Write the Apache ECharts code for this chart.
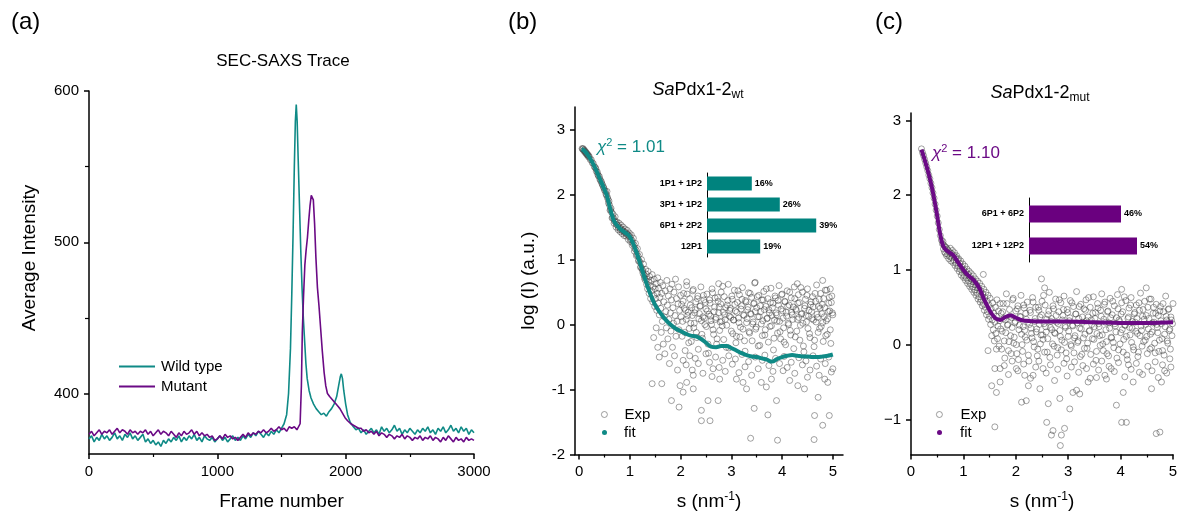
<!DOCTYPE html>
<html><head><meta charset="utf-8">
<script src="https://cdn.jsdelivr.net/npm/echarts@6/dist/echarts.min.js"></script>
<style>html,body{margin:0;padding:0;background:#fff}#c{width:1181px;height:516px}</style>
</head><body><div id="c"></div>
<script>
// ---------- Panel (a): SEC-SAXS trace ----------
const wtTrace = [[0,370],[20,372],[40,368],[60,371],[80,369],[100,373],[120,370],[140,372],[160,369],[180,371],[200,374],[220,370],[240,372],[260,369],[280,373],[300,371],[320,374],[340,370],[360,372],[380,369],[400,371],[420,373],[440,368],[460,370],[480,367],[500,369],[520,366],[540,368],[560,365],[580,369],[600,367],[620,370],[640,368],[660,371],[680,369],[700,372],[720,368],[740,371],[760,369],[780,372],[800,370],[820,373],[840,369],[860,371],[880,368],[900,372],[920,370],[940,369],[960,371],[980,368],[1000,370],[1020,372],[1040,369],[1060,371],[1080,368],[1100,370],[1120,372],[1140,369],[1160,371],[1180,369],[1200,372],[1220,370],[1240,373],[1260,371],[1280,374],[1300,372],[1320,375],[1340,373],[1360,371],[1380,374],[1400,372],[1420,375],[1440,373],[1460,376],[1480,374],[1500,377],[1520,380],[1540,386],[1555,400],[1570,430],[1580,465],[1590,505],[1600,550],[1608,580],[1615,591],[1622,580],[1630,555],[1640,525],[1650,495],[1660,470],[1670,450],[1680,435],[1690,420],[1700,410],[1715,402],[1730,397],[1750,393],[1770,390],[1790,388],[1810,386],[1830,387],[1850,385],[1870,388],[1890,390],[1910,393],[1930,398],[1945,405],[1958,411],[1966,413],[1975,410],[1985,402],[2000,393],[2015,386],[2035,381],[2060,378],[2080,376],[2100,377],[2120,374],[2140,376],[2160,373],[2180,375],[2200,377],[2220,374],[2240,376],[2260,373],[2280,378],[2300,375],[2320,377],[2340,374],[2360,376],[2380,379],[2400,375],[2420,377],[2440,373],[2460,376],[2480,374],[2500,377],[2520,375],[2540,373],[2560,376],[2580,374],[2600,377],[2620,375],[2640,378],[2660,374],[2680,376],[2700,373],[2720,377],[2740,375],[2760,378],[2780,374],[2800,376],[2820,379],[2840,375],[2860,377],[2880,374],[2900,378],[2920,375],[2940,377],[2960,373],[2980,376],[3000,374]];
const mutTrace = [[0,373],[20,375],[40,372],[60,374],[80,376],[100,373],[120,375],[140,374],[160,376],[180,373],[200,375],[220,377],[240,374],[260,376],[280,375],[300,373],[320,376],[340,374],[360,375],[380,373],[400,375],[420,374],[440,376],[460,373],[480,375],[500,372],[520,374],[540,376],[560,373],[580,375],[600,374],[620,372],[640,375],[660,373],[680,371],[700,374],[720,372],[740,375],[760,373],[780,374],[800,376],[820,373],[840,375],[860,372],[880,374],[900,372],[920,373],[940,371],[960,372],[980,369],[1000,370],[1020,372],[1040,370],[1060,373],[1080,371],[1100,372],[1120,370],[1140,371],[1160,369],[1180,371],[1200,373],[1220,371],[1240,374],[1260,372],[1280,374],[1300,373],[1320,375],[1340,374],[1360,376],[1380,374],[1400,375],[1420,377],[1440,375],[1460,376],[1480,378],[1500,376],[1520,377],[1540,375],[1560,378],[1580,377],[1600,378],[1620,376],[1635,377],[1645,380],[1655,405],[1662,440],[1672,465],[1682,485],[1692,495],[1702,503],[1712,514],[1722,524],[1732,531],[1740,532],[1748,528],[1758,512],[1768,490],[1780,470],[1792,458],[1805,443],[1818,428],[1832,414],[1845,405],[1858,400],[1875,398],[1895,396],[1915,394],[1935,392],[1955,390],[1975,387],[1995,384],[2015,382],[2040,380],[2060,379],[2080,378],[2100,377],[2120,377],[2140,375],[2160,376],[2180,374],[2200,375],[2220,373],[2240,375],[2260,372],[2280,374],[2300,373],[2320,371],[2340,373],[2360,372],[2380,370],[2400,372],[2420,371],[2440,373],[2460,370],[2480,372],[2500,371],[2520,369],[2540,371],[2560,370],[2580,372],[2600,369],[2620,371],[2640,370],[2660,372],[2680,369],[2700,371],[2720,370],[2740,368],[2760,371],[2780,369],[2800,372],[2820,370],[2840,368],[2860,371],[2880,369],[2900,370],[2920,368],[2940,371],[2960,369],[2980,370],[3000,369]];
const traceXLabels = [0,1000,2000,3000];
const traceXMinor = [500,1500,2500];
const traceYLabels = [400,500,600];
const traceYMinor = [450,550];

// ---------- Panels (b),(c): SAXS fits ----------
const sLabels = [0,1,2,3,4,5];
const sMinor = [0.5,1.5,2.5,3.5,4.5];
const logLabelsB = [-2,-1,0,1,2,3];
const logLabelsC = [-1,0,1,2,3];

const expBLow = [[0.06,2.71],[0.07,2.70],[0.08,2.71],[0.09,2.68],[0.10,2.69],[0.11,2.66],[0.12,2.67],[0.13,2.64],[0.14,2.65],[0.15,2.62],[0.16,2.63],[0.17,2.60],[0.18,2.61],[0.19,2.58],[0.20,2.59],[0.22,2.54],[0.24,2.54],[0.26,2.49],[0.28,2.48],[0.30,2.43],[0.32,2.42],[0.33,2.40],[0.34,2.36],[0.36,2.35],[0.37,2.31],[0.38,2.29],[0.40,2.28],[0.41,2.24],[0.42,2.22],[0.44,2.20],[0.45,2.17],[0.46,2.15],[0.48,2.12],[0.49,2.10],[0.50,2.07],[0.52,2.05],[0.53,2.01],[0.54,1.99],[0.56,1.96],[0.58,1.87],[0.60,1.84],[0.62,1.77],[0.64,1.73],[0.66,1.65],[0.68,1.64],[0.70,1.59],[0.72,1.58],[0.74,1.54],[0.76,1.53],[0.78,1.49],[0.80,1.50],[0.82,1.46],[0.84,1.47],[0.86,1.44],[0.88,1.44],[0.90,1.41],[0.92,1.42],[0.94,1.39],[0.96,1.39],[0.98,1.36],[1.00,1.36],[1.02,1.31],[1.04,1.30],[1.06,1.25],[1.08,1.23],[1.10,1.17],[1.12,1.15],[1.14,1.08],[1.16,1.06],[1.18,0.99],[1.20,0.96],[1.22,0.89],[1.24,0.86],[1.26,0.79],[1.28,0.76],[1.30,0.69],
[0.55,2.05],[0.57,1.93],[0.59,1.90],[0.61,1.76],[0.63,1.79],[0.65,1.64],[0.67,1.70],[0.69,1.56],[0.71,1.66],[0.73,1.50],[0.75,1.58],[0.77,1.46],[0.79,1.56],[0.81,1.43],[0.83,1.53],[0.85,1.40],[0.87,1.50],[0.89,1.37],[0.91,1.47],[0.93,1.36],[0.95,1.45],[0.97,1.31],[0.99,1.41],[1.01,1.28],[1.03,1.38],[1.05,1.22],[1.07,1.33],[1.09,1.13],[1.11,1.25],[1.13,1.06],[1.15,1.17],[1.17,0.98],[1.19,1.08],[1.21,0.88],[1.23,1.00],[1.25,0.83],[1.27,0.93],[1.29,0.72],[1.31,0.85]];
const expBMid = [[1.32,0.78],[1.33,0.62],[1.34,0.70],[1.35,0.55],[1.36,0.82],[1.37,0.66],[1.38,0.48],[1.39,0.74],[1.40,0.60],[1.41,0.40],[1.42,0.68],[1.43,0.52],[1.44,0.77],[1.45,0.35],[1.46,0.58],[1.47,0.45],[1.48,0.70],[1.49,0.28],[1.50,0.55],[1.51,0.40],[1.52,0.63],[1.53,0.22],[1.54,0.48],[1.55,0.72],[1.56,0.33],[1.57,0.56],[1.58,0.15],[1.59,0.42],[1.60,0.65],[1.47,-0.20],[1.52,-0.05],[1.55,-0.35],[1.58,-0.50],
[1.61,0.25],[1.62,-0.12],[1.63,0.48],[1.64,0.05],[1.65,0.60],[1.66,-0.30],[1.67,0.35],[1.68,0.12],[1.69,-0.45],[1.70,0.52],[1.71,0.20],[1.72,-0.05],[1.73,0.68],[1.74,0.30],[1.75,-0.22],[1.76,0.44],[1.77,0.08],[1.78,-0.60],[1.79,0.55],[1.80,0.18],[1.81,-0.10],[1.82,0.38],[1.83,0.62],[1.84,-0.35],[1.85,0.26],[1.86,0.02],[1.87,0.50],[1.88,-0.48],[1.89,0.14],[1.90,0.70],[1.91,-0.18],[1.92,0.40],[1.93,0.05],[1.94,-0.70],[1.95,0.32],[1.96,0.58],[1.97,-0.08],[1.98,0.22],[2.00,0.45]];
const expBBandA = [[2.02,0.31],[2.04,0.05],[2.06,0.48],[2.08,-0.12],[2.10,0.22],[2.12,0.60],[2.14,0.14],[2.16,-0.28],[2.18,0.40],[2.20,0.02],
[2.22,0.26],[2.24,0.52],[2.26,-0.05],[2.28,0.18],[2.30,0.35],[2.32,-0.20],[2.34,0.44],[2.36,0.09],[2.38,0.28],[2.40,0.58],
[2.42,-0.15],[2.44,0.12],[2.46,0.38],[2.48,0.00],[2.50,0.24],[2.52,0.47],[2.54,-0.30],[2.56,0.16],[2.58,0.33],[2.60,0.06],
[2.62,0.55],[2.64,-0.08],[2.66,0.20],[2.68,0.41],[2.70,0.11],[2.72,-0.22],[2.74,0.36],[2.76,0.27],[2.78,0.04],[2.80,0.50],
[2.82,-0.02],[2.84,0.19],[2.86,0.43],[2.88,0.08],[2.90,-0.35],[2.92,0.30],[2.94,0.62],[2.96,0.13],[2.98,0.25],[3.00,-0.10],
[3.02,0.39],[3.04,0.07],[3.06,0.53],[3.08,0.21],[3.10,-0.18],[3.12,0.34],[3.14,0.10],[3.16,0.46],[3.18,-0.04],[3.20,0.29],
[3.22,0.57],[3.24,0.15],[3.26,-0.25],[3.28,0.37],[3.30,0.03],[3.32,0.23],[3.34,0.49],[3.36,-0.13],[3.38,0.17],[3.40,0.42],
[3.42,0.01],[3.44,0.32],[3.46,0.64],[3.48,-0.07],[3.50,0.26],[3.52,0.12],[3.54,0.45],[3.56,-0.32],[3.58,0.20],[3.60,0.38],
[3.62,0.06],[3.64,0.51],[3.66,-0.16],[3.68,0.28],[3.70,0.09],[3.72,0.40],[3.74,0.23],[3.76,-0.03],[3.78,0.56],[3.80,0.14],
[3.82,0.33],[3.84,-0.21],[3.86,0.44],[3.88,0.18],[3.90,0.05],[3.92,0.37],[3.94,0.60],[3.96,-0.11],[3.98,0.24],[4.00,0.47],
[4.02,0.10],[4.04,-0.27],[4.06,0.35],[4.08,0.19],[4.10,0.52],[4.12,0.02],[4.14,0.30],[4.16,-0.09],[4.18,0.41],[4.20,0.15],
[4.22,0.27],[4.24,0.58],[4.26,-0.19],[4.28,0.22],[4.30,0.08],[4.32,0.46],[4.34,0.34],[4.36,-0.01],[4.38,0.16],[4.40,0.50],
[4.42,-0.33],[4.44,0.25],[4.46,0.39],[4.48,0.04],[4.50,0.55],[4.52,0.13],[4.54,-0.14],[4.56,0.31],[4.58,0.20],[4.60,0.43],
[4.62,0.07],[4.64,-0.24],[4.66,0.36],[4.68,0.61],[4.70,0.11],[4.72,0.28],[4.74,-0.06],[4.76,0.48],[4.78,0.17],[4.80,0.03],
[4.82,0.40],[4.84,0.26],[4.86,-0.17],[4.88,0.53],[4.90,0.09],[4.92,0.33],[4.94,0.21],[4.96,-0.29],[4.98,0.44],[5.00,0.15]];
const expBBandB = [[2.01,0.12],[2.03,-0.18],[2.05,0.36],[2.07,0.25],[2.09,-0.40],[2.11,0.08],[2.13,0.47],[2.15,0.19],[2.17,-0.06],[2.19,0.30],
[2.21,-0.26],[2.23,0.14],[2.25,0.54],[2.27,0.02],[2.29,0.23],[2.31,-0.12],[2.33,0.40],[2.35,-0.38],[2.37,0.17],[2.39,0.29],
[2.41,0.06],[2.43,-0.21],[2.45,0.45],[2.47,0.10],[2.49,0.34],[2.51,-0.03],[2.53,0.21],[2.55,-0.44],[2.57,0.38],[2.59,0.13],
[2.61,0.00],[2.63,0.49],[2.65,-0.15],[2.67,0.27],[2.69,0.08],[2.71,-0.30],[2.73,0.42],[2.75,0.18],[2.77,-0.09],[2.79,0.32],
[2.81,0.05],[2.83,0.59],[2.85,-0.23],[2.87,0.15],[2.89,0.26],[2.91,-0.01],[2.93,0.37],[2.95,-0.36],[2.97,0.22],[2.99,0.11],
[3.01,0.44],[3.03,-0.14],[3.05,0.07],[3.07,0.31],[3.09,-0.28],[3.11,0.19],[3.13,0.52],[3.15,0.03],[3.17,-0.19],[3.19,0.24],
[3.21,0.39],[3.23,-0.07],[3.25,0.14],[3.27,-0.41],[3.29,0.35],[3.31,0.09],[3.33,0.27],[3.35,-0.11],[3.37,0.48],[3.39,0.16],
[3.41,-0.25],[3.43,0.04],[3.45,0.33],[3.47,0.20],[3.49,-0.04],[3.51,0.43],[3.53,-0.33],[3.55,0.12],[3.57,0.29],[3.59,0.01],
[3.61,-0.17],[3.63,0.38],[3.65,0.23],[3.67,-0.08],[3.69,0.55],[3.71,0.10],[3.73,-0.27],[3.75,0.18],[3.77,0.34],[3.79,-0.02],
[3.81,0.26],[3.83,-0.39],[3.85,0.07],[3.87,0.41],[3.89,0.15],[3.91,-0.13],[3.93,0.30],[3.95,0.05],[3.97,-0.22],[3.99,0.46],
[4.01,0.21],[4.03,-0.05],[4.05,0.36],[4.07,-0.31],[4.09,0.13],[4.11,0.28],[4.13,0.00],[4.15,0.50],[4.17,-0.16],[4.19,0.19],
[4.21,0.08],[4.23,-0.37],[4.25,0.40],[4.27,0.24],[4.29,-0.10],[4.31,0.33],[4.33,0.11],[4.35,-0.24],[4.37,0.57],[4.39,0.17],
[4.41,0.02],[4.43,-0.42],[4.45,0.29],[4.47,0.14],[4.49,0.45],[4.51,-0.06],[4.53,0.22],[4.55,-0.20],[4.57,0.35],[4.59,0.09],
[4.61,0.27],[4.63,-0.34],[4.65,0.48],[4.67,0.04],[4.69,0.16],[4.71,-0.12],[4.73,0.39],[4.75,0.25],[4.77,-0.03],[4.79,0.31],
[4.81,-0.26],[4.83,0.12],[4.85,0.53],[4.87,0.06],[4.89,-0.15],[4.91,0.20],[4.93,0.42],[4.95,-0.08],[4.97,0.34],[4.99,0.18]];
const expBSparse = [[2.05,-0.55],[2.11,-0.62],[2.18,-0.48],[2.23,-0.70],[2.29,-0.52],[2.35,-0.60],[2.44,-0.75],[2.50,-0.45],[2.57,-0.58],[2.62,-0.80],[2.69,-0.50],[2.76,-0.66],[2.83,-0.55],[2.88,-0.72],[2.95,-0.48],[3.02,-0.61],[3.08,-0.53],[3.15,-0.74],[3.21,-0.46],[3.27,-0.65],[3.34,-0.57],[3.40,-0.78],[3.47,-0.50],[3.53,-0.68],[3.61,-0.55],[3.66,-0.47],[3.74,-0.63],[3.82,-0.72],[3.87,-0.52],[3.95,-0.60],[4.04,-0.49],[4.10,-0.66],[4.18,-0.58],[4.25,-0.75],[4.33,-0.51],[4.40,-0.62],[4.47,-0.56],[4.55,-0.70],[4.61,-0.48],[4.68,-0.64],[4.76,-0.53],[4.85,-0.60],[4.92,-0.50],[4.97,-0.73],
[1.44,-0.91],[1.63,-0.91],[1.82,-1.17],[1.97,-1.27],[2.05,-1.04],[2.41,-1.32],[2.41,-1.48],[2.58,-1.48],[2.54,-1.17],[2.74,-1.17],[3.38,-1.75],[3.45,-1.29],[3.72,-1.39],[3.91,-1.78],[3.89,-1.17],[4.63,-1.77],[4.64,-1.40],[4.93,-1.40],[4.80,-1.55],[4.71,-1.12],[4.84,-0.84],[1.99,-0.94],[2.12,-0.89],[2.25,-0.78],[2.25,-0.99],[2.64,-0.68],[2.77,-0.84],[3.10,-0.84],[3.23,-0.89],[3.30,-0.99],[3.59,-0.89],[3.69,-0.96],[3.79,-0.84],[4.02,-0.71],[4.15,-0.86],[4.31,-0.94],[4.44,-0.99],[4.50,-0.81],[4.73,-0.78],[4.90,-0.89],[5.00,-0.68],[3.47,0.65],[4.80,0.68],[2.12,0.66],[2.75,0.63],[4.30,0.63],[4.95,0.55]];
const fitB = [[0.05,2.70],[0.1,2.68],[0.2,2.58],[0.3,2.44],[0.4,2.26],[0.5,2.08],[0.55,1.98],[0.6,1.82],[0.65,1.68],[0.7,1.58],[0.8,1.48],[0.9,1.42],[1.0,1.35],[1.1,1.18],[1.2,0.95],[1.3,0.70],[1.4,0.48],[1.5,0.30],[1.6,0.18],[1.7,0.08],[1.8,0.00],[1.9,-0.06],[2.0,-0.10],[2.1,-0.14],[2.2,-0.17],[2.3,-0.18],[2.4,-0.22],[2.5,-0.28],[2.6,-0.34],[2.7,-0.35],[2.8,-0.33],[2.9,-0.33],[3.0,-0.36],[3.1,-0.40],[3.2,-0.44],[3.3,-0.47],[3.4,-0.49],[3.5,-0.50],[3.6,-0.52],[3.7,-0.54],[3.8,-0.57],[3.9,-0.53],[4.0,-0.50],[4.1,-0.48],[4.2,-0.47],[4.3,-0.48],[4.4,-0.49],[4.5,-0.49],[4.6,-0.50],[4.7,-0.50],[4.8,-0.49],[4.9,-0.48],[5.0,-0.46]];

const expCLow = [[0.20,2.62],[0.22,2.57],[0.24,2.53],[0.26,2.48],[0.28,2.43],[0.30,2.38],[0.32,2.33],[0.34,2.27],[0.36,2.22],[0.38,2.16],[0.40,2.10],[0.42,2.03],[0.44,1.96],[0.46,1.88],[0.48,1.80],[0.50,1.72],[0.52,1.63],[0.54,1.54],[0.56,1.46],[0.58,1.40],[0.60,1.35],
[0.61,1.38],[0.62,1.28],[0.63,1.33],[0.64,1.24],[0.65,1.31],[0.66,1.22],[0.67,1.30],[0.68,1.19],[0.69,1.28],[0.70,1.21],[0.71,1.26],[0.72,1.15],[0.73,1.24],[0.74,1.18],[0.75,1.29],[0.76,1.12],[0.77,1.22],[0.78,1.16],[0.79,1.26],[0.80,1.10],[0.81,1.20],[0.82,1.13],[0.83,1.23],[0.84,1.06],[0.85,1.17],[0.86,1.09],[0.87,1.19],[0.88,1.02],[0.89,1.14],[0.90,1.05],[0.91,1.15],[0.92,0.98],[0.93,1.09],[0.94,1.01],[0.95,1.12],[0.96,0.93],[0.97,1.04],[0.98,0.96],[0.99,1.08],[1.00,0.90],[1.01,1.00],[1.02,0.92],[1.03,1.05],[1.04,0.86],[1.05,0.97],[1.06,0.89],[1.07,1.01],[1.08,0.82],[1.09,0.94],[1.10,0.85],[1.11,0.98],[1.12,0.78],[1.13,0.90],[1.14,0.81],[1.15,0.95],[1.16,0.74],[1.17,0.87],[1.18,0.77],[1.19,0.92],[1.20,0.70],[1.21,0.84],[1.22,0.73],[1.23,0.88],[1.24,0.66],[1.25,0.80],[1.26,0.69],[1.27,0.85],[1.28,0.61],[1.29,0.76],[1.30,0.64],[1.31,0.82],[1.32,0.57],[1.33,0.72],[1.34,0.60],[1.35,0.78],[1.36,0.52],[1.37,0.68],[1.38,0.94],[1.38,0.55],[1.39,0.74],[1.40,0.46],[1.41,0.63],[1.42,0.50],[1.43,0.70],[1.44,0.40],[1.45,0.58],[1.46,0.44],[1.47,0.66],[1.47,-0.08],[1.48,0.34],[1.49,0.53],[1.50,0.38],[1.51,0.62],[1.52,0.27],[1.53,0.48],[1.54,0.12],[1.54,-0.55],[1.55,0.33],[1.56,0.56],[1.57,0.20],[1.58,0.42],[1.59,0.05],[1.60,0.30],[1.60,-0.32],[1.60,-1.10],[1.61,0.50],[1.62,0.15],[1.63,0.38],[1.63,-0.06],[1.63,-0.64],[1.64,0.60],[1.65,0.08],[1.66,0.25],[1.67,0.45],[1.68,-0.02],[1.69,0.32],[1.70,0.55],[1.70,-0.32],[1.70,-0.50]];
const expCBandA = [[1.72,0.42],[1.74,0.18],[1.76,0.55],[1.78,0.05],[1.80,0.33],[1.82,0.68],[1.84,0.26],[1.86,-0.08],[1.88,0.47],[1.90,0.12],
[1.92,0.36],[1.94,0.60],[1.96,0.02],[1.98,0.29],[2.00,0.45],[2.02,-0.12],[2.04,0.52],[2.06,0.20],[2.08,0.38],[2.10,0.66],
[2.12,0.00],[2.14,0.24],[2.16,0.49],[2.18,0.10],[2.20,0.34],[2.22,0.57],[2.24,-0.14],[2.26,0.27],[2.28,0.43],[2.30,0.15],
[2.32,0.63],[2.34,0.04],[2.36,0.31],[2.38,0.50],[2.40,0.21],[2.42,-0.06],[2.44,0.46],[2.46,0.37],[2.48,0.13],[2.50,0.58],
[2.52,0.07],[2.54,0.28],[2.56,0.53],[2.58,0.17],[2.60,-0.10],[2.62,0.40],[2.64,0.70],[2.66,0.23],[2.68,0.35],[2.70,0.01],
[2.72,0.48],[2.74,0.16],[2.76,0.61],[2.78,0.30],[2.80,-0.04],[2.82,0.44],[2.84,0.19],[2.86,0.56],[2.88,0.06],[2.90,0.39],
[2.92,0.65],[2.94,0.25],[2.96,-0.11],[2.98,0.47],[3.00,0.11],[3.02,0.32],[3.04,0.59],[3.06,-0.02],[3.08,0.26],[3.10,0.51],
[3.12,0.09],[3.14,0.41],[3.16,0.71],[3.18,0.03],[3.20,0.35],[3.22,0.22],[3.24,0.54],[3.26,-0.13],[3.28,0.30],[3.30,0.48],
[3.32,0.14],[3.34,0.60],[3.36,-0.05],[3.38,0.37],[3.40,0.18],[3.42,0.50],[3.44,0.33],[3.46,0.08],[3.48,0.64],[3.50,0.24],
[3.52,0.43],[3.54,-0.09],[3.56,0.55],[3.58,0.28],[3.60,0.12],[3.62,0.46],[3.64,0.68],[3.66,0.01],[3.68,0.34],[3.70,0.57],
[3.72,0.20],[3.74,-0.12],[3.76,0.45],[3.78,0.29],[3.80,0.62],[3.82,0.10],[3.84,0.40],[3.86,0.03],[3.88,0.52],[3.90,0.25],
[3.92,0.36],[3.94,0.67],[3.96,-0.07],[3.98,0.31],[4.00,0.16],[4.02,0.56],[4.04,0.44],[4.06,0.07],[4.08,0.26],[4.10,0.59],
[4.12,-0.14],[4.14,0.35],[4.16,0.49],[4.18,0.13],[4.20,0.63],[4.22,0.22],[4.24,-0.03],[4.26,0.41],[4.28,0.30],[4.30,0.53],
[4.32,0.15],[4.34,-0.10],[4.36,0.46],[4.38,0.69],[4.40,0.19],[4.42,0.38],[4.44,0.04],[4.46,0.58],[4.48,0.27],[4.50,0.11],
[4.52,0.50],[4.54,0.35],[4.56,-0.06],[4.58,0.61],[4.60,0.17],[4.62,0.42],[4.64,0.30],[4.66,-0.11],[4.68,0.54],[4.70,0.23],
[4.72,0.39],[4.74,0.06],[4.76,0.51],[4.78,0.28],[4.80,-0.08],[4.82,0.44],[4.84,0.14],[4.86,0.65],[4.88,0.33],[4.90,0.02],
[4.92,0.48],[4.94,0.21],[4.96,0.37],[4.98,0.12],[5.00,0.55]];
const expCBandB = [[1.71,0.21],[1.73,-0.06],[1.75,0.44],[1.77,0.35],[1.79,-0.18],[1.81,0.16],[1.83,0.55],[1.85,0.27],[1.87,0.04],[1.89,0.38],
[1.91,-0.12],[1.93,0.23],[1.95,0.62],[1.97,0.10],[1.99,0.31],[2.01,0.00],[2.03,0.48],[2.05,-0.20],[2.07,0.26],[2.09,0.37],
[2.11,0.14],[2.13,-0.09],[2.15,0.53],[2.17,0.19],[2.19,0.42],[2.21,0.06],[2.23,0.30],[2.25,-0.22],[2.27,0.46],[2.29,0.22],
[2.31,0.09],[2.33,0.57],[2.35,-0.03],[2.37,0.35],[2.39,0.17],[2.41,-0.15],[2.43,0.50],[2.45,0.27],[2.47,0.01],[2.49,0.40],
[2.51,0.13],[2.53,0.66],[2.55,-0.10],[2.57,0.24],[2.59,0.34],[2.61,0.08],[2.63,0.45],[2.65,-0.17],[2.67,0.31],[2.69,0.20],
[2.71,0.52],[2.73,-0.02],[2.75,0.15],[2.77,0.39],[2.79,-0.14],[2.81,0.28],[2.83,0.60],[2.85,0.11],[2.87,-0.07],[2.89,0.33],
[2.91,0.47],[2.93,0.03],[2.95,0.23],[2.97,-0.19],[2.99,0.43],[3.01,0.18],[3.03,0.36],[3.05,0.00],[3.07,0.56],[3.09,0.25],
[3.11,-0.11],[3.13,0.12],[3.15,0.41],[3.17,0.29],[3.19,0.05],[3.21,0.51],[3.23,-0.16],[3.25,0.21],[3.27,0.37],[3.29,0.09],
[3.31,-0.05],[3.33,0.46],[3.35,0.32],[3.37,0.02],[3.39,0.63],[3.41,0.19],[3.43,-0.13],[3.45,0.27],[3.47,0.42],[3.49,0.07],
[3.51,0.35],[3.53,-0.21],[3.55,0.15],[3.57,0.49],[3.59,0.24],[3.61,-0.01],[3.63,0.38],[3.65,0.13],[3.67,-0.08],[3.69,0.54],
[3.71,0.30],[3.73,0.04],[3.75,0.44],[3.77,-0.15],[3.79,0.22],[3.81,0.36],[3.83,0.09],[3.85,0.58],[3.87,-0.04],[3.89,0.28],
[3.91,0.17],[3.93,-0.18],[3.95,0.48],[3.97,0.33],[3.99,0.01],[4.01,0.41],[4.03,0.20],[4.05,-0.10],[4.07,0.64],[4.09,0.26],
[4.11,0.11],[4.13,-0.20],[4.15,0.37],[4.17,0.23],[4.19,0.53],[4.21,0.03],[4.23,0.31],[4.25,-0.07],[4.27,0.43],[4.29,0.18],
[4.31,0.35],[4.33,-0.16],[4.35,0.56],[4.37,0.12],[4.39,0.25],[4.41,-0.02],[4.43,0.47],[4.45,0.34],[4.47,0.06],[4.49,0.39],
[4.51,-0.12],[4.53,0.21],[4.55,0.61],[4.57,0.14],[4.59,-0.04],[4.61,0.29],[4.63,0.50],[4.65,0.02],[4.67,0.42],[4.69,0.27],
[4.71,0.16],[4.73,-0.09],[4.75,0.45],[4.77,0.32],[4.79,0.08],[4.81,0.55],[4.83,-0.14],[4.85,0.24],[4.87,0.38],[4.89,0.05],
[4.91,0.47],[4.93,0.19],[4.95,-0.06],[4.97,0.33],[4.99,0.28]];
const expCSparse = [[1.78,-0.28],[1.86,-0.40],[1.93,-0.22],[2.04,-0.35],[2.15,-0.26],[2.28,-0.45],[2.38,-0.30],[2.44,-0.22],[2.58,-0.38],[2.66,-0.27],[2.74,-0.48],[2.80,-0.33],[2.92,-0.25],[2.98,-0.42],[3.06,-0.30],[3.12,-0.23],[3.20,-0.37],[3.28,-0.28],[3.42,-0.45],[3.48,-0.26],[3.58,-0.34],[3.64,-0.22],[3.70,-0.41],[3.78,-0.29],[3.88,-0.36],[3.96,-0.24],[4.08,-0.43],[4.15,-0.27],[4.20,-0.33],[4.30,-0.25],[4.42,-0.40],[4.52,-0.29],[4.60,-0.35],[4.66,-0.23],[4.72,-0.44],[4.80,-0.27],[4.88,-0.38],[4.96,-0.30],
[2.01,-0.32],[2.17,-0.41],[2.24,-0.55],[2.11,-0.77],[2.20,-0.75],[2.46,-0.59],[2.33,-0.41],[2.62,-0.79],[2.84,-0.72],[2.59,-1.04],[2.71,-1.15],[2.68,-1.21],[2.87,-1.21],[2.93,-1.12],[2.85,-1.35],[3.03,-0.86],[3.09,-0.64],[3.16,-0.61],[3.22,-0.66],[3.38,-0.50],[3.54,-0.44],[3.73,-0.46],[3.92,-0.81],[4.02,-1.04],[4.11,-1.04],[4.05,-0.64],[4.24,-0.50],[4.59,-0.59],[4.68,-1.19],[4.75,-1.17],[4.78,-0.50],[4.84,-0.35],[4.36,-0.37],[2.52,-0.32],[3.35,-0.32],[3.82,-0.32],[4.94,-0.19],
[2.55,0.76],[2.49,0.88],[4.02,0.74],[4.49,0.76]];
const fitC = [[0.2,2.61],[0.25,2.50],[0.3,2.38],[0.35,2.25],[0.4,2.10],[0.45,1.92],[0.5,1.72],[0.55,1.50],[0.6,1.35],[0.65,1.28],[0.7,1.25],[0.8,1.20],[0.9,1.10],[1.0,1.00],[1.1,0.92],[1.2,0.86],[1.3,0.76],[1.4,0.60],[1.5,0.46],[1.6,0.36],[1.7,0.33],[1.8,0.37],[1.9,0.39],[2.0,0.36],[2.1,0.33],[2.2,0.32],[2.5,0.31],[3.0,0.31],[3.5,0.30],[4.0,0.29],[4.5,0.29],[5.0,0.30]];

// ---------- Insets ----------
const catsB = ['1P1 + 1P2','3P1 + 1P2','6P1 + 2P2','12P1'];
const valsB = [16,26,39,19];
const catsC = ['6P1 + 6P2','12P1 + 12P2'];
const valsC = [46,54];

const FONT = 'Liberation Sans, Arial, sans-serif';
const TEAL = '#0f8a86', PURPLE = '#6b0a85', TEALBAR = '#00837e', PURPLEBAR = '#6a007f';
const expB = expBLow.concat(expBMid, expBBandA, expBBandB, expBSparse);
const expC = expCLow.concat(expCBandA, expCBandB, expCSparse);

const axLine = {onZero:false, lineStyle:{color:'#000', width:1.5}};
const plain = v => v < 0 ? '-' + Math.abs(v) : String(v);
function mainX(grid, min, max, labels, name, gap, rich){
  return {type:'value', gridIndex:grid, min, max, position:'bottom',
    axisLine: axLine, splitLine:{show:false},
    axisTick:{customValues:labels, length:5, lineStyle:{color:'#000', width:1.5}},
    axisLabel:{customValues:labels, color:'#000', fontSize:15, margin:10, fontFamily:FONT, formatter:plain},
    name, nameLocation:'middle', nameGap:gap,
    nameTextStyle:{color:'#000', fontSize:19, fontFamily:FONT, rich}};
}
function minorX(grid, min, max, vals){
  return {type:'value', gridIndex:grid, min, max, position:'bottom',
    axisLine:{show:false, onZero:false}, splitLine:{show:false}, axisLabel:{show:false},
    axisTick:{customValues:vals, length:3, lineStyle:{color:'#000', width:1.2}}};
}
function mainY(grid, min, max, labels, fmt){
  return {type:'value', gridIndex:grid, min, max, position:'left',
    axisLine: axLine, splitLine:{show:false},
    axisTick:{customValues:labels, length:5, lineStyle:{color:'#000', width:1.5}},
    axisLabel:{customValues:labels, color:'#000', fontSize:15, margin:10, fontFamily:FONT, formatter:fmt || plain}};
}
const sRich = {n:{fontSize:19, fontFamily:FONT, color:'#000'}, sup:{fontSize:12, fontFamily:FONT, color:'#000', padding:[0,0,10,0]}};

const chart = echarts.init(document.getElementById('c'), null, {renderer:'canvas'});
chart.setOption({
  animation:false,
  backgroundColor:'#fff',
  textStyle:{fontFamily:FONT},
  grid:[
    {left:89, top:91, width:385, height:363},
    {left:575, top:107, width:268, height:349},
    {left:911, top:113, width:262, height:343},
    {left:707, top:173, width:140, height:84},
    {left:1029, top:198, width:140, height:64}
  ],
  xAxis:[
    mainX(0, 0, 3000, traceXLabels, 'Frame number', 38),
    minorX(0, 0, 3000, traceXMinor),
    mainX(1, -0.08, 5.2, sLabels, '{n|s (nm}{sup|-1}{n|)}', 36, sRich),
    minorX(1, -0.08, 5.2, sMinor),
    mainX(2, 0, 5, sLabels, '{n|s (nm}{sup|-1}{n|)}', 36, sRich),
    minorX(2, 0, 5, sMinor),
    {type:'value', gridIndex:3, min:0, max:50, axisLine:{onZero:false, lineStyle:{color:'#8a8a8a', width:1.5}}, axisTick:{show:false}, axisLabel:{show:false}, splitLine:{show:false}},
    {type:'value', gridIndex:4, min:0, max:70, axisLine:{onZero:false, lineStyle:{color:'#8a8a8a', width:1.5}}, axisTick:{show:false}, axisLabel:{show:false}, splitLine:{show:false}}
  ],
  yAxis:[
    mainY(0, 360, 600, traceYLabels),
    {type:'value', gridIndex:0, min:360, max:600, position:'left', axisLine:{show:false, onZero:false}, splitLine:{show:false}, axisLabel:{show:false},
      axisTick:{customValues:traceYMinor, length:4, lineStyle:{color:'#000', width:1.2}}},
    Object.assign(mainY(1, -2, 3.35, logLabelsB), {name:'log (I) (a.u.)', nameLocation:'middle', nameGap:37, nameTextStyle:{color:'#000', fontSize:19, fontFamily:FONT}}),
    mainY(2, -1.47, 3.1, logLabelsC, v => v < 0 ? '\u2212' + Math.abs(v) : String(v)),
    {type:'category', gridIndex:3, data:catsB, inverse:true, axisLine:{onZero:false, lineStyle:{color:'#000', width:1}},
      axisTick:{alignWithLabel:true, length:3, lineStyle:{color:'#000'}},
      axisLabel:{color:'#000', fontSize:9, fontWeight:'bold', margin:5, fontFamily:FONT}},
    {type:'category', gridIndex:4, data:catsC, inverse:true, axisLine:{onZero:false, lineStyle:{color:'#000', width:1}},
      axisTick:{alignWithLabel:true, length:3, lineStyle:{color:'#000'}},
      axisLabel:{color:'#000', fontSize:9, fontWeight:'bold', margin:5, fontFamily:FONT}}
  ],
  legend:[
    {left:114, top:354, orient:'vertical', selectedMode:false, itemWidth:36, itemHeight:2, itemGap:5, icon:'rect',
      data:[{name:'Wild type', itemStyle:{color:TEAL}}, {name:'Mutant', itemStyle:{color:PURPLE}}],
      textStyle:{fontSize:15, color:'#000', fontFamily:FONT, padding:[0,0,0,1]}},
    {left:596, top:402, selectedMode:false, itemWidth:6, itemHeight:6,
      data:[{name:'Exp (b)', icon:'circle', itemStyle:{color:'rgba(0,0,0,0)', borderColor:'#666', borderWidth:0.8}}],
      formatter: n => n.split(' ')[0], textStyle:{fontSize:15, color:'#000', fontFamily:FONT, padding:[0,0,0,12]}},
    {left:597, top:420, selectedMode:false, itemWidth:5, itemHeight:5,
      data:[{name:'fit (b)', icon:'circle', itemStyle:{color:TEAL}}],
      formatter: n => n.split(' ')[0], textStyle:{fontSize:15, color:'#000', fontFamily:FONT, padding:[0,0,0,12]}},
    {left:931, top:402, selectedMode:false, itemWidth:6, itemHeight:6,
      data:[{name:'Exp (c)', icon:'circle', itemStyle:{color:'rgba(0,0,0,0)', borderColor:'#666', borderWidth:0.8}}],
      formatter: n => n.split(' ')[0], textStyle:{fontSize:15, color:'#000', fontFamily:FONT, padding:[0,0,0,13]}},
    {left:932, top:420, selectedMode:false, itemWidth:5, itemHeight:5,
      data:[{name:'fit (c)', icon:'circle', itemStyle:{color:PURPLE}}],
      formatter: n => n.split(' ')[0], textStyle:{fontSize:15, color:'#000', fontFamily:FONT, padding:[0,0,0,13]}}
  ],
  series:[
    {type:'line', name:'Wild type', xAxisIndex:0, yAxisIndex:0, data:wtTrace, symbol:'none', color:TEAL, lineStyle:{width:1.6, color:TEAL}},
    {type:'line', name:'Mutant', xAxisIndex:0, yAxisIndex:0, data:mutTrace, symbol:'none', color:PURPLE, lineStyle:{width:1.6, color:PURPLE}},
    {type:'scatter', name:'Exp (b)', xAxisIndex:2, yAxisIndex:2, data:expB, symbol:'circle', symbolSize:6, silent:true,
      itemStyle:{color:'rgba(0,0,0,0)', borderColor:'#3a3a3a', borderWidth:0.6}},
    {type:'line', name:'fit (b)', xAxisIndex:2, yAxisIndex:2, data:fitB, symbol:'none', smooth:0.4, color:TEAL, lineStyle:{width:4, color:TEAL}, z:5},
    {type:'scatter', name:'Exp (c)', xAxisIndex:4, yAxisIndex:3, data:expC, symbol:'circle', symbolSize:6, silent:true,
      itemStyle:{color:'rgba(0,0,0,0)', borderColor:'#3a3a3a', borderWidth:0.6}},
    {type:'line', name:'fit (c)', xAxisIndex:4, yAxisIndex:3, data:fitC, symbol:'none', smooth:0.4, color:PURPLE, lineStyle:{width:4, color:PURPLE}, z:5},
    {type:'bar', name:'bars (b)', xAxisIndex:6, yAxisIndex:4, data:valsB, barWidth:14, itemStyle:{color:TEALBAR},
      label:{show:true, position:'right', distance:3, formatter:'{c}%', fontSize:9, fontWeight:'bold', color:'#000', fontFamily:FONT}},
    {type:'bar', name:'bars (c)', xAxisIndex:7, yAxisIndex:5, data:valsC, barWidth:17, itemStyle:{color:PURPLEBAR},
      label:{show:true, position:'right', distance:3, formatter:'{c}%', fontSize:9, fontWeight:'bold', color:'#000', fontFamily:FONT}}
  ],
  graphic:[
    {type:'text', x:11, y:22, style:{text:'(a)', fontSize:24, fontFamily:FONT, fill:'#000', verticalAlign:'middle'}},
    {type:'text', x:508, y:22, style:{text:'(b)', fontSize:24, fontFamily:FONT, fill:'#000', verticalAlign:'middle'}},
    {type:'text', x:875, y:22, style:{text:'(c)', fontSize:24, fontFamily:FONT, fill:'#000', verticalAlign:'middle'}},
    {type:'text', x:283, y:61, style:{text:'SEC-SAXS Trace', fontSize:17, fontFamily:FONT, fill:'#000', align:'center', verticalAlign:'middle'}},
    {type:'text', x:30, y:258, rotation:Math.PI/2, style:{text:'Average Intensity', fontSize:19, fontFamily:FONT, fill:'#000', align:'center', verticalAlign:'middle'}},
    {type:'text', x:698, y:90, style:{text:'{i|Sa}{n|Pdx1-2}{s|wt}', align:'center', verticalAlign:'middle',
      rich:{i:{fontSize:18, fontStyle:'italic', fontFamily:FONT, fill:'#000'}, n:{fontSize:18, fontFamily:FONT, fill:'#000'}, s:{fontSize:12, fontFamily:FONT, fill:'#000', padding:[10,0,0,0]}}}},
    {type:'text', x:1040, y:93, style:{text:'{i|Sa}{n|Pdx1-2}{s|mut}', align:'center', verticalAlign:'middle',
      rich:{i:{fontSize:18, fontStyle:'italic', fontFamily:FONT, fill:'#000'}, n:{fontSize:18, fontFamily:FONT, fill:'#000'}, s:{fontSize:12, fontFamily:FONT, fill:'#000', padding:[10,0,0,0]}}}},
    {type:'text', x:597, y:147, style:{text:'{c|\u03c7}{p|2}{n| = 1.01}', verticalAlign:'middle',
      rich:{c:{fontSize:17, fontStyle:'italic', fontFamily:FONT, fill:TEAL}, p:{fontSize:11, fontFamily:FONT, fill:TEAL, padding:[0,0,9,0]}, n:{fontSize:17, fontFamily:FONT, fill:TEAL}}}},
    {type:'text', x:932, y:153, style:{text:'{c|\u03c7}{p|2}{n| = 1.10}', verticalAlign:'middle',
      rich:{c:{fontSize:17, fontStyle:'italic', fontFamily:FONT, fill:PURPLE}, p:{fontSize:11, fontFamily:FONT, fill:PURPLE, padding:[0,0,9,0]}, n:{fontSize:17, fontFamily:FONT, fill:PURPLE}}}}
  ]
});
</script>
</body></html>
